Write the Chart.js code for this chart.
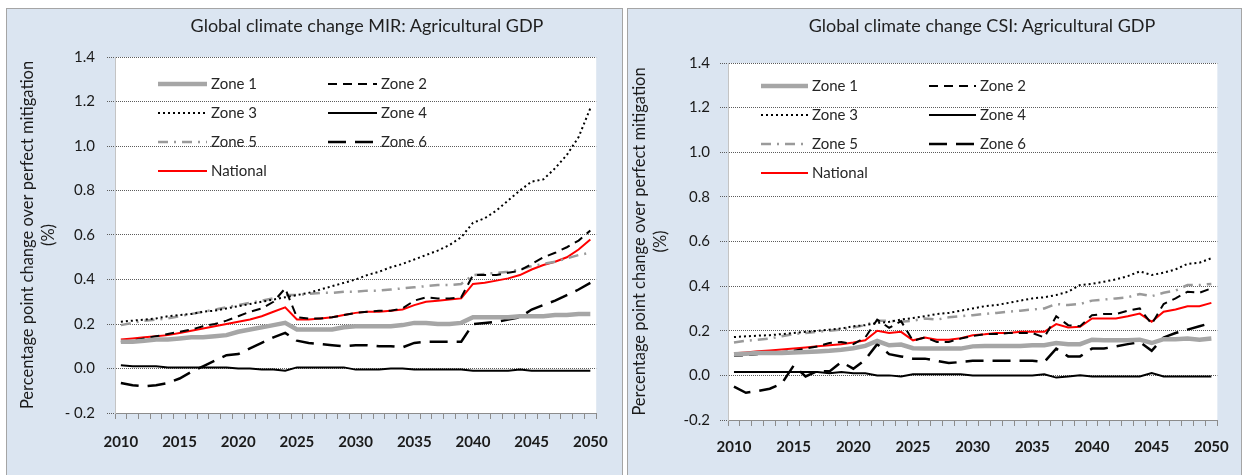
<!DOCTYPE html>
<html>
<head>
<meta charset="utf-8">
<script src="https://cdn.jsdelivr.net/npm/chart.js@4.4.1/dist/chart.umd.min.js"></script>
<style>
  html, body { margin: 0; padding: 0; background: #fff; }
  body { width: 1242px; height: 475px; position: relative; overflow: hidden; font-family: Lato, sans-serif; }
  .panel { position: absolute; top: 8px; height: 480px; background: #dbe5f1; border: 1px solid #a5a5a5; box-sizing: border-box; }
  #panelA { left: 6px; width: 617px; }
  #panelB { left: 627px; width: 615px; }
  .panel canvas { position: absolute; left: 0; top: 0; }
  .title { position: absolute; top: 5px; width: 420px; font-size: 18px; line-height: 22px; color: #1f1f1f; text-align: center; white-space: nowrap; }
</style>
</head>
<body>
<div class="panel" id="panelA">
  <canvas id="mirChart" width="615" height="466"></canvas>
  <div class="title" style="left:150px">Global climate change MIR: Agricultural GDP</div>
</div>
<div class="panel" id="panelB">
  <canvas id="csiChart" width="613" height="466"></canvas>
  <div class="title" style="left:144px">Global climate change CSI: Agricultural GDP</div>
</div>
<script>
var years = [2010, 2011, 2012, 2013, 2014, 2015, 2016, 2017, 2018, 2019,
             2020, 2021, 2022, 2023, 2024, 2025, 2026, 2027, 2028, 2029,
             2030, 2031, 2032, 2033, 2034, 2035, 2036, 2037, 2038, 2039,
             2040, 2041, 2042, 2043, 2044, 2045, 2046, 2047, 2048, 2049, 2050];
var yTickValues = [-0.2, 0, 0.2, 0.4, 0.6, 0.8, 1.0, 1.2, 1.4];
var seriesNames = ['Zone 1', 'Zone 2', 'Zone 3', 'Zone 4', 'Zone 5', 'Zone 6', 'National'];

// MIR scenario
var mirZone1 = [0.12, 0.12, 0.125, 0.13, 0.13, 0.135, 0.14, 0.14, 0.145, 0.15,
                0.165, 0.175, 0.185, 0.195, 0.205, 0.175, 0.175, 0.175, 0.175, 0.185,
                0.19, 0.19, 0.19, 0.19, 0.195, 0.205, 0.205, 0.2, 0.2, 0.205,
                0.23, 0.23, 0.23, 0.23, 0.235, 0.235, 0.235, 0.24, 0.24, 0.245, 0.245];
var mirZone2 = [0.12, 0.125, 0.135, 0.145, 0.155, 0.165, 0.175, 0.19, 0.2, 0.215,
                0.235, 0.255, 0.27, 0.3, 0.36, 0.23, 0.225, 0.225, 0.23, 0.24,
                0.25, 0.255, 0.26, 0.26, 0.27, 0.305, 0.32, 0.315, 0.315, 0.32,
                0.42, 0.42, 0.42, 0.43, 0.44, 0.47, 0.5, 0.52, 0.545, 0.575, 0.62];
var mirZone3 = [0.21, 0.215, 0.22, 0.225, 0.235, 0.24, 0.245, 0.255, 0.26, 0.27,
                0.28, 0.29, 0.3, 0.31, 0.32, 0.33, 0.34, 0.355, 0.37, 0.385,
                0.4, 0.42, 0.435, 0.455, 0.47, 0.49, 0.51, 0.53, 0.555, 0.59,
                0.655, 0.675, 0.71, 0.755, 0.8, 0.84, 0.85, 0.9, 0.96, 1.04, 1.17];
var mirZone4 = [0.015, 0.01, 0.01, 0.01, 0.005, 0.005, 0.005, 0.005, 0.005, 0.005,
                0.0, 0.0, -0.005, -0.005, -0.01, 0.005, 0.005, 0.005, 0.005, 0.005,
                -0.005, -0.005, -0.005, 0.0, 0.0, -0.005, -0.005, -0.005, -0.005, -0.005,
                -0.01, -0.01, -0.01, -0.01, -0.005, -0.01, -0.01, -0.01, -0.01, -0.01, -0.01];
var mirZone5 = [0.195, 0.205, 0.215, 0.22, 0.225, 0.235, 0.245, 0.255, 0.265, 0.275,
                0.285, 0.295, 0.305, 0.315, 0.33, 0.33, 0.335, 0.34, 0.34, 0.345,
                0.345, 0.35, 0.35, 0.355, 0.36, 0.365, 0.37, 0.375, 0.375, 0.38,
                0.42, 0.425, 0.43, 0.435, 0.445, 0.46, 0.47, 0.48, 0.495, 0.51, 0.52];
var mirZone6 = [-0.065, -0.075, -0.08, -0.075, -0.065, -0.045, -0.015, 0.01, 0.035, 0.06,
                0.065, 0.09, 0.115, 0.14, 0.16, 0.125, 0.115, 0.11, 0.105, 0.1,
                0.105, 0.105, 0.1, 0.1, 0.095, 0.115, 0.12, 0.12, 0.12, 0.12,
                0.2, 0.205, 0.21, 0.22, 0.23, 0.265, 0.285, 0.305, 0.33, 0.355, 0.385];
var mirNational = [0.13, 0.135, 0.14, 0.145, 0.15, 0.16, 0.17, 0.18, 0.19, 0.2,
                   0.21, 0.22, 0.235, 0.255, 0.275, 0.22, 0.22, 0.225, 0.23, 0.24,
                   0.25, 0.255, 0.255, 0.26, 0.265, 0.285, 0.3, 0.305, 0.31, 0.315,
                   0.38, 0.385, 0.395, 0.405, 0.42, 0.445, 0.465, 0.48, 0.5, 0.535, 0.58];

// CSI scenario
var csiZone1 = [0.095, 0.097, 0.1, 0.1, 0.1, 0.103, 0.105, 0.107, 0.11, 0.115,
                0.122, 0.132, 0.154, 0.135, 0.138, 0.122, 0.12, 0.12, 0.12, 0.12,
                0.13, 0.132, 0.132, 0.132, 0.132, 0.135, 0.135, 0.145, 0.14, 0.14,
                0.16, 0.157, 0.157, 0.157, 0.16, 0.145, 0.162, 0.162, 0.165, 0.16, 0.165];
var csiZone2 = [0.088, 0.09, 0.095, 0.1, 0.105, 0.11, 0.12, 0.13, 0.145, 0.15,
                0.14, 0.17, 0.25, 0.213, 0.243, 0.155, 0.17, 0.15, 0.15, 0.165,
                0.176, 0.185, 0.185, 0.19, 0.19, 0.19, 0.17, 0.265, 0.225, 0.22,
                0.27, 0.275, 0.275, 0.29, 0.3, 0.23, 0.32, 0.345, 0.375, 0.37, 0.39];
var csiZone3 = [0.172, 0.175, 0.178, 0.18, 0.185, 0.19, 0.195, 0.2, 0.205, 0.21,
                0.22, 0.225, 0.235, 0.24, 0.25, 0.257, 0.265, 0.275, 0.28, 0.29,
                0.3, 0.31, 0.315, 0.325, 0.335, 0.345, 0.35, 0.36, 0.375, 0.405,
                0.41, 0.42, 0.43, 0.445, 0.466, 0.45, 0.46, 0.475, 0.5, 0.505, 0.525];
var csiZone4 = [0.015, 0.015, 0.015, 0.015, 0.015, 0.015, 0.015, 0.015, 0.01, 0.015,
                0.01, 0.01, 0.0, 0.0, -0.005, 0.005, 0.005, 0.005, 0.005, 0.005,
                0.0, 0.0, 0.0, 0.0, 0.0, 0.0, 0.005, -0.01, -0.005, 0.0,
                -0.005, -0.005, -0.005, -0.005, -0.005, 0.01, -0.005, -0.005, -0.005, -0.005, -0.005];
var csiZone5 = [0.147, 0.155, 0.16, 0.165, 0.175, 0.185, 0.19, 0.195, 0.2, 0.205,
                0.215, 0.225, 0.245, 0.245, 0.24, 0.245, 0.255, 0.25, 0.26, 0.265,
                0.27, 0.275, 0.28, 0.285, 0.29, 0.295, 0.3, 0.32, 0.315, 0.32,
                0.335, 0.34, 0.345, 0.35, 0.365, 0.355, 0.37, 0.38, 0.405, 0.405, 0.41];
var csiZone6 = [-0.05, -0.078, -0.07, -0.06, -0.037, 0.044, -0.005, 0.02, 0.018, 0.06,
                0.03, 0.07, 0.14, 0.095, 0.085, 0.075, 0.075, 0.065, 0.055, 0.06,
                0.065, 0.065, 0.065, 0.065, 0.065, 0.065, 0.06, 0.12, 0.085, 0.085,
                0.12, 0.12, 0.13, 0.14, 0.15, 0.11, 0.17, 0.19, 0.205, 0.22, 0.235];
var csiNational = [0.099, 0.103, 0.108, 0.112, 0.116, 0.12, 0.125, 0.13, 0.135, 0.14,
                   0.147, 0.157, 0.2, 0.19, 0.195, 0.157, 0.17, 0.16, 0.16, 0.166,
                   0.18, 0.184, 0.19, 0.19, 0.195, 0.195, 0.195, 0.23, 0.215, 0.218,
                   0.255, 0.255, 0.255, 0.265, 0.277, 0.24, 0.285, 0.295, 0.31, 0.31, 0.325];

var lineStyles = [
    { borderColor: '#a6a6a6', borderWidth: 4.5, borderDash: [] },
    { borderColor: '#000000', borderWidth: 2, borderDash: [9, 6] },
    { borderColor: '#000000', borderWidth: 2, borderDash: [2, 3] },
    { borderColor: '#000000', borderWidth: 2, borderDash: [] },
    { borderColor: '#9a9a9a', borderWidth: 2.5, borderDash: [10, 6, 2, 6] },
    { borderColor: '#000000', borderWidth: 2.5, borderDash: [18, 9] },
    { borderColor: '#ff0000', borderWidth: 2, borderDash: [] }
];

Chart.defaults.font.family = 'Lato, sans-serif';
Chart.defaults.color = '#1a1a1a';

var plotBackground = {
    id: 'plotBackground',
    beforeDraw: function (chart) {
        var a = chart.chartArea;
        chart.ctx.save();
        chart.ctx.fillStyle = '#ffffff';
        chart.ctx.fillRect(a.left, a.top, a.right - a.left, a.bottom - a.top);
        chart.ctx.restore();
    }
};

// two-column legend drawn inside the plot area
var insideLegend = {
    id: 'insideLegend',
    afterDatasetsDraw: function (chart, args, opts) {
        var ctx = chart.ctx, a = chart.chartArea;
        ctx.save();
        ctx.font = '15px Lato, sans-serif';
        ctx.textBaseline = 'middle';
        chart.data.datasets.forEach(function (ds, i) {
            var x = a.left + opts.x + (i % 2) * opts.colGap;
            var y = a.top + opts.y + Math.floor(i / 2) * opts.rowGap;
            ctx.beginPath();
            ctx.setLineDash(ds.borderDash);
            ctx.lineWidth = ds.borderWidth;
            ctx.strokeStyle = ds.borderColor;
            ctx.moveTo(x, y);
            ctx.lineTo(x + opts.lineLen, y);
            ctx.stroke();
            ctx.setLineDash([]);
            ctx.fillStyle = '#262626';
            ctx.fillText(ds.label, x + opts.lineLen + 4, y);
        });
        ctx.restore();
    }
};

function buildChart(id, series, cfg) {
    var datasets = series.map(function (values, i) {
        return {
            label: seriesNames[i],
            data: values,
            borderColor: lineStyles[i].borderColor,
            borderWidth: lineStyles[i].borderWidth,
            borderDash: lineStyles[i].borderDash,
            pointRadius: 0,
            tension: 0,
            fill: false
        };
    });
    new Chart(document.getElementById(id), {
        type: 'line',
        data: { labels: years, datasets: datasets },
        plugins: [plotBackground, insideLegend],
        options: {
            responsive: false,
            animation: false,
            devicePixelRatio: 1,
            layout: { padding: { top: cfg.top, right: cfg.right, left: 0, bottom: 0 } },
            plugins: {
                legend: { display: false },
                tooltip: { enabled: false },
                insideLegend: cfg.legend
            },
            scales: {
                x: {
                    type: 'category',
                    offset: true,
                    grid: { offset: true, drawOnChartArea: false, drawTicks: true, tickLength: 6, color: '#8c8c8c' },
                    border: { display: true, color: '#8c8c8c', width: 1 },
                    ticks: {
                        autoSkip: false, maxRotation: 0, minRotation: 0,
                        padding: cfg.xPad,
                        color: '#1a1a1a',
                        font: { size: 15, weight: 'bold' },
                        callback: function (v, i) { return years[i] % 5 === 0 ? String(years[i]) : ''; }
                    },
                    afterFit: function (s) { s.height = cfg.xHeight; }
                },
                y: {
                    min: -0.2,
                    max: 1.4,
                    afterBuildTicks: function (s) {
                        s.ticks = yTickValues.map(function (v) { return { value: v }; });
                    },
                    grid: { color: '#5c5c5c', lineWidth: 1, tickLength: 8, tickBorderDash: [1, 1], tickColor: '#5c5c5c' },
                    border: { display: true, color: '#c4c4c4', dash: [1, 1] },
                    ticks: {
                        padding: cfg.yPad,
                        color: '#1a1a1a',
                        font: { size: 15 },
                        callback: function (v) {
                            return v < 0 ? cfg.minus + Math.abs(v).toFixed(1) : v.toFixed(1);
                        }
                    },
                    title: {
                        display: true,
                        text: ['Percentage point change over perfect mitigation', '(%)'],
                        color: '#1a1a1a',
                        font: { size: 16.5, lineHeight: 1.22 },
                        padding: { top: cfg.titlePad, bottom: 0 }
                    },
                    afterFit: function (s) { s.width = cfg.yWidth; }
                }
            }
        }
    });
}

buildChart('mirChart',
    [mirZone1, mirZone2, mirZone3, mirZone4, mirZone5, mirZone6, mirNational],
    { top: 48, right: 22, xHeight: 62, yWidth: 108, xPad: 14, yPad: 12, titlePad: 11, minus: '- ',
      legend: { x: 43, y: 27, colGap: 170, rowGap: 29, lineLen: 49 } });

buildChart('csiChart',
    [csiZone1, csiZone2, csiZone3, csiZone4, csiZone5, csiZone6, csiNational],
    { top: 54, right: 19, xHeight: 55, yWidth: 100, xPad: 12, yPad: 10, titlePad: 2, minus: '-',
      legend: { x: 33, y: 23, colGap: 168, rowGap: 29, lineLen: 47 } });
</script>
</body>
</html>
